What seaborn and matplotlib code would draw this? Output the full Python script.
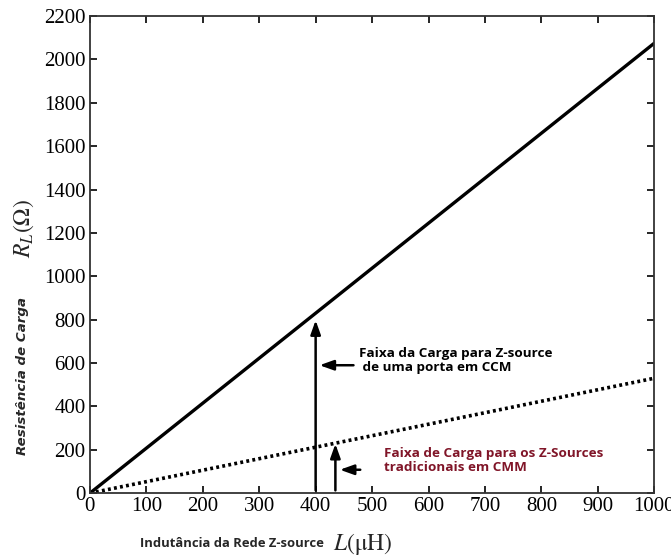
import pandas as pd
import seaborn as sns
import matplotlib.pyplot as plt

# ---------------------------------------------------------------------------
L_uH = [0, 1000]
R_ccm = [0, 2075]
R_trad = [0, 530]
x_ticks = list(range(0, 1001, 100))
y_ticks = list(range(0, 2201, 200))

df = pd.DataFrame({'L': L_uH + L_uH,
                   'R': R_ccm + R_trad,
                   'serie': ['ccm'] * 2 + ['trad'] * 2})
# ---------------------------------------------------------------------------
sns.set_theme(style='ticks')
plt.rcParams['font.family'] = ['Liberation Serif', 'DejaVu Serif']
plt.rcParams['mathtext.fontset'] = 'stix'

fig = plt.figure(figsize=(6.71, 5.56), dpi=100)
ax = fig.add_axes([0.134, 0.113, 0.841, 0.858])

sns.lineplot(data=df[df.serie == 'ccm'], x='L', y='R', color='black', lw=2.4, ax=ax)
sns.lineplot(data=df[df.serie == 'trad'], x='L', y='R', color='black', lw=2.6,
             linestyle=(0, (0.8, 0.9)), ax=ax)

ax.set_xlim(0, 1000)
ax.set_ylim(0, 2200)
ax.set_xticks(x_ticks)
ax.set_yticks(y_ticks)
ax.tick_params(direction='in', top=True, right=True, length=5, width=1.2,
               labelsize=15, pad=3, colors='black')
for s in ax.spines.values():
    s.set_linewidth(1.3)
    s.set_color('#333333')
ax.set_xlabel('')
ax.set_ylabel('')

# arrows
arr = dict(arrowstyle='-|>,head_length=0.7,head_width=0.25', color='black', lw=1.8)
ax.annotate('', xy=(400, 810), xytext=(400, 0), arrowprops=arr)
ax.annotate('', xy=(402, 590), xytext=(472, 590), arrowprops=arr)
ax.annotate('', xy=(435, 240), xytext=(435, 0), arrowprops=arr)
ax.annotate('', xy=(438, 108), xytext=(484, 108), arrowprops=arr)

sans = ['Open Sans', 'DejaVu Sans']
ax.text(476, 612, 'Faixa da Carga para Z-source\n de uma porta em CCM', fontsize=9.7,
        family=sans, fontweight='bold', color='black', va='center', linespacing=1.15)
ax.text(521, 150, 'Faixa de Carga para os Z-Sources\ntradicionais em CMM', fontsize=9.7,
        family=sans, fontweight='bold', color='#801528', va='center', linespacing=1.15)

# axis labels
fig.text(0.034, 0.324, 'Resistência de Carga', rotation=90, fontsize=9.6,
         family=['DejaVu Sans'], style='italic', fontweight='bold',
         va='center', ha='center')
fig.text(0.035, 0.59, r'$R_L(\Omega)$', rotation=90, fontsize=17, va='center', ha='center')
fig.text(0.208, 0.022, 'Indutância da Rede Z-source', fontsize=9.4, family=sans,
         fontweight='bold', va='center', ha='left')
fig.text(0.497, 0.022, r'$L(\mathrm{\mu H})$', fontsize=17, va='center', ha='left')

fig.savefig('out.png', dpi=100)
